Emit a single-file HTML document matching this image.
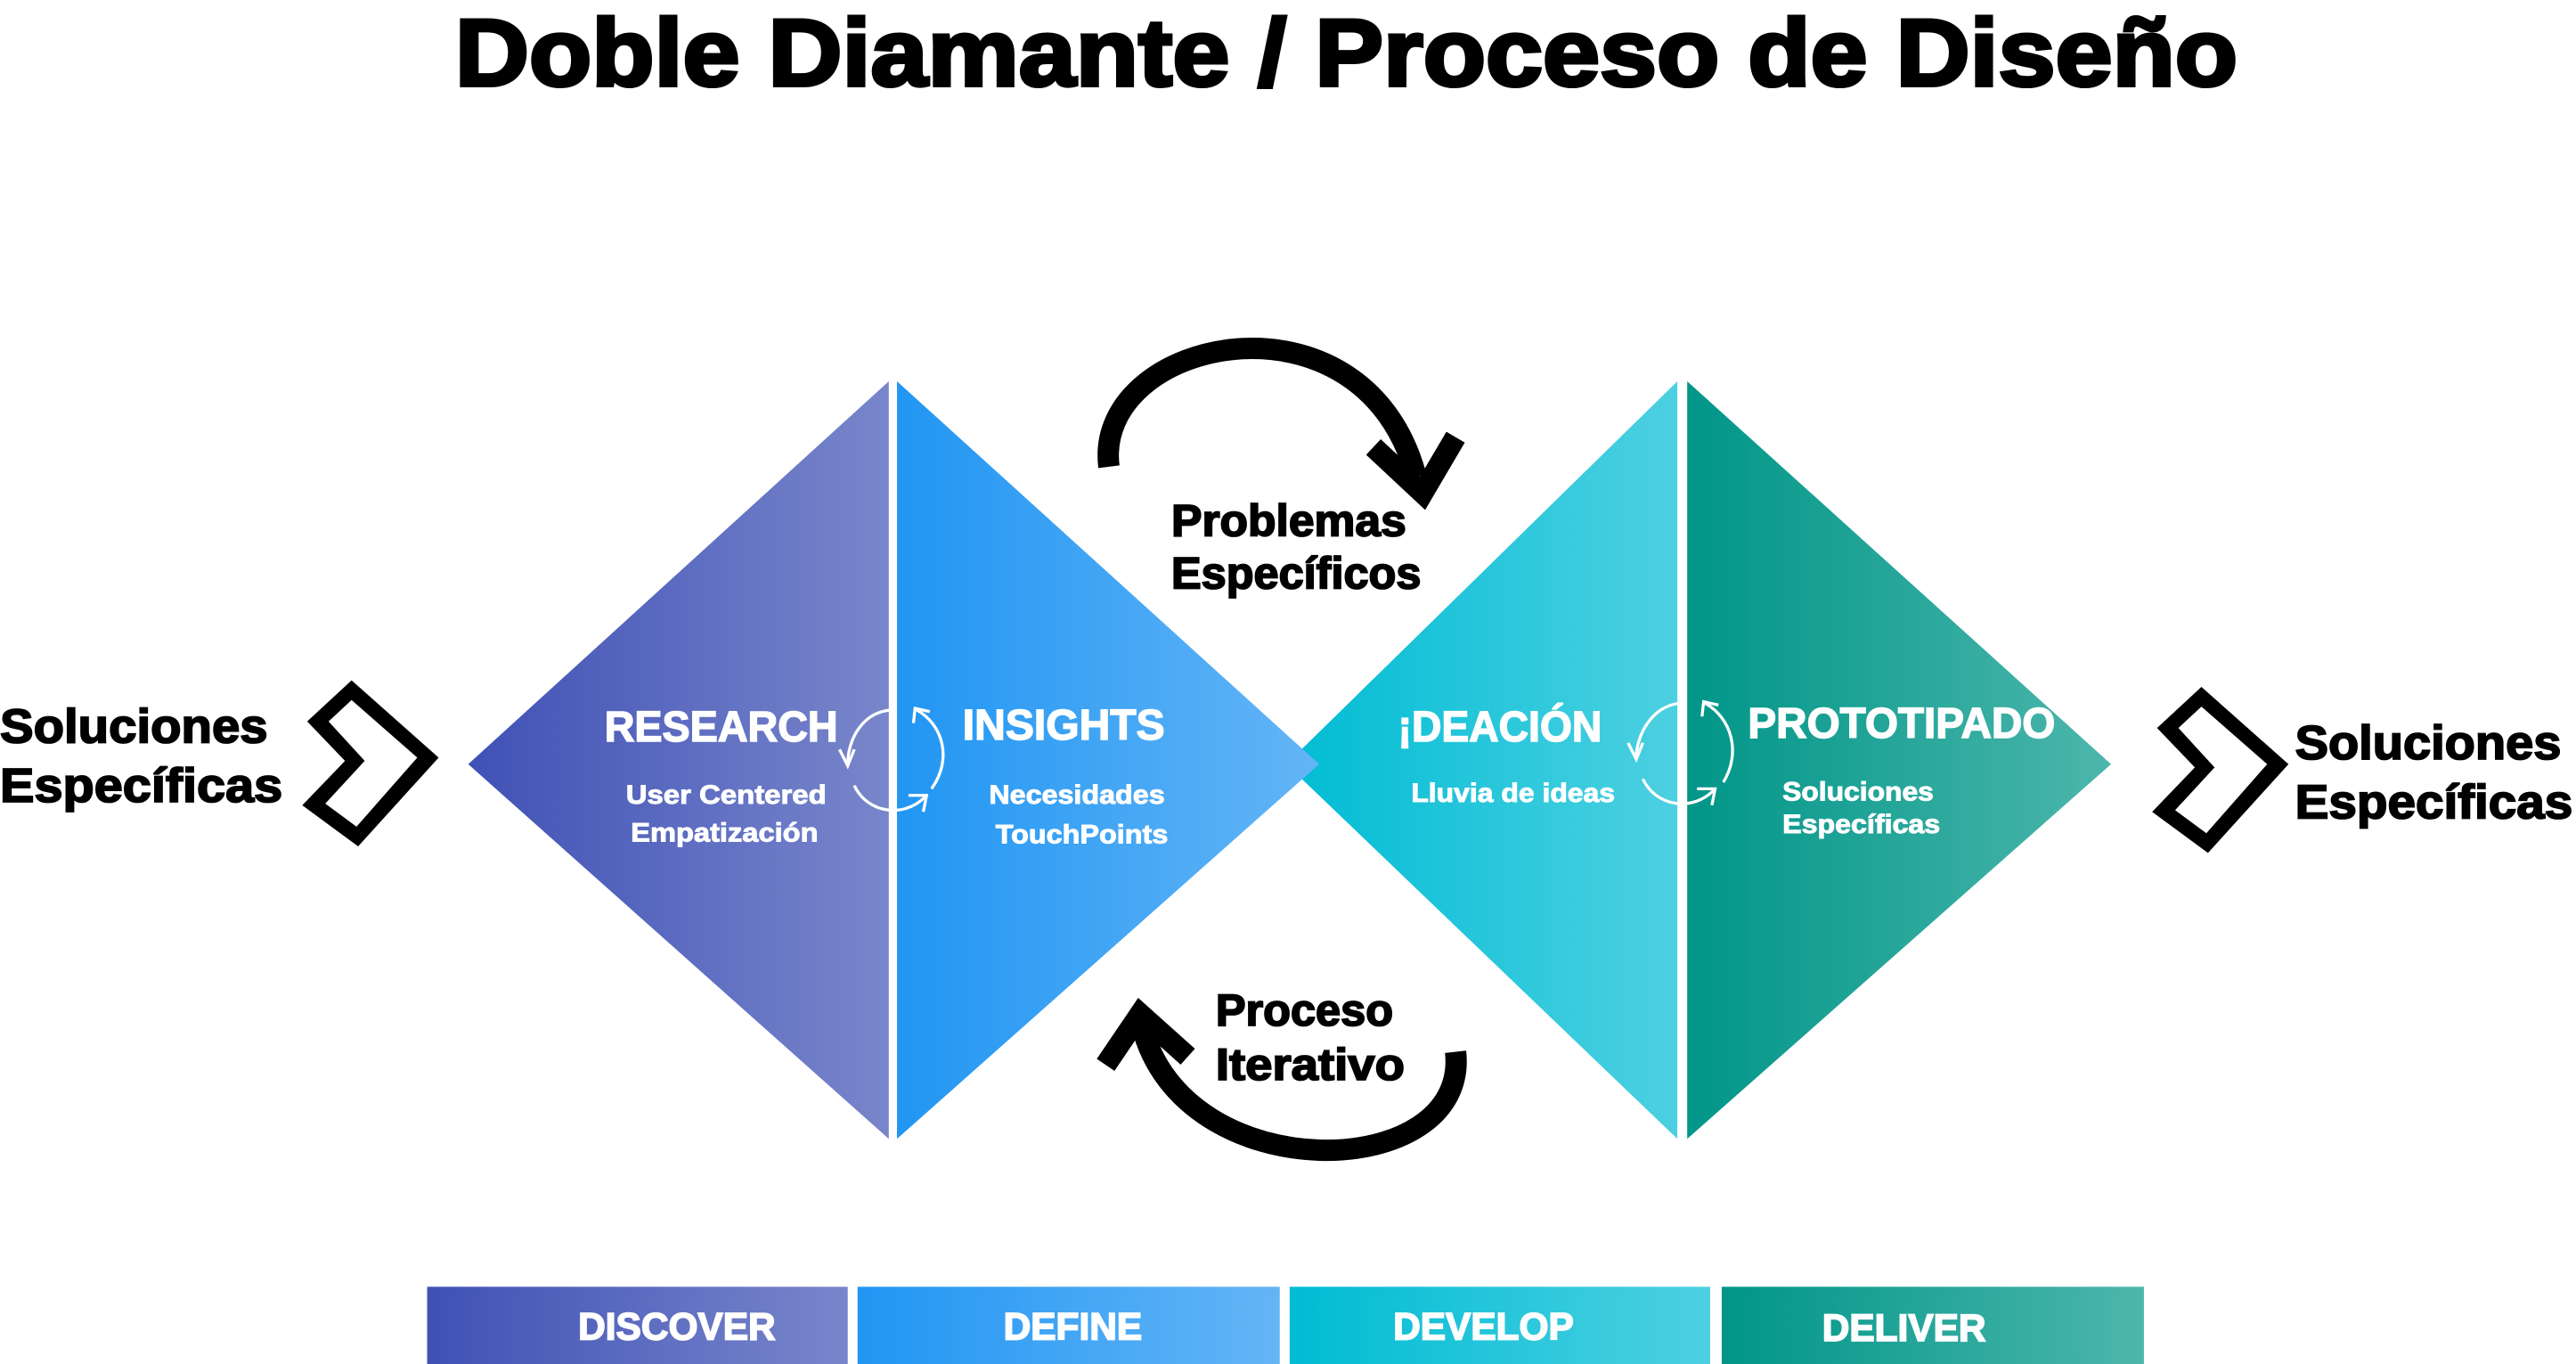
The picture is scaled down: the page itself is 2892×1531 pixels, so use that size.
<!DOCTYPE html>
<html><head><meta charset="utf-8"><style>
html,body{margin:0;padding:0;background:#fff;}
svg{display:block;}
text{font-family:"Liberation Sans",sans-serif;font-weight:bold;}
</style></head><body>
<svg width="2892" height="1531" viewBox="0 0 1568 830" preserveAspectRatio="none" xmlns="http://www.w3.org/2000/svg">
<defs>
<linearGradient id="gDis" x1="0" x2="1"><stop offset="0" stop-color="#3f51b5"/><stop offset="1" stop-color="#7986cb"/></linearGradient>
<linearGradient id="gDef" x1="0" x2="1"><stop offset="0" stop-color="#2196f3"/><stop offset="1" stop-color="#64b5f6"/></linearGradient>
<linearGradient id="gDev" x1="0" x2="1"><stop offset="0" stop-color="#00bcd4"/><stop offset="1" stop-color="#4dd0e1"/></linearGradient>
<linearGradient id="gDel" x1="0" x2="1"><stop offset="0" stop-color="#009688"/><stop offset="1" stop-color="#4db6ac"/></linearGradient>
</defs>
<text x="277" y="52" font-size="58" textLength="1085" lengthAdjust="spacingAndGlyphs" fill="#000" stroke="#000" stroke-width="2.2">Doble Diamante / Proceso de Diseño</text>

<!-- diamond 2 -->
<polygon points="783,465 1021,232 1021,693" fill="url(#gDev)"/>
<polygon points="1027,232 1285,465 1027,693" fill="url(#gDel)"/>
<!-- diamond 1 -->
<polygon points="285,465 541,232 541,693" fill="url(#gDis)"/>
<polygon points="546,232 803,465 546,693" fill="url(#gDef)"/>

<!-- chevrons -->
<path fill="#000" fill-rule="evenodd" d="M214,414 L267,461 L218,515 L184,490 L210,463 L187,439 Z M214,426 L200,439 L222,463 L198,489 L217,503 L254,461 Z"/>
<path fill="#000" fill-rule="evenodd" transform="translate(1126,4)" d="M214,414 L267,461 L218,515 L184,490 L210,463 L187,439 Z M214,426 L200,439 L222,463 L198,489 L217,503 L254,461 Z"/>

<g stroke="#000" stroke-width="1">
<text x="0" y="452" font-size="29" textLength="163" lengthAdjust="spacingAndGlyphs">Soluciones</text>
<text x="0" y="488" font-size="29" textLength="172" lengthAdjust="spacingAndGlyphs">Específicas</text>
<text x="1397" y="462" font-size="29" textLength="162" lengthAdjust="spacingAndGlyphs">Soluciones</text>
<text x="1397" y="498" font-size="29" textLength="169" lengthAdjust="spacingAndGlyphs">Específicas</text>
<text x="713" y="326" font-size="27" textLength="143" lengthAdjust="spacingAndGlyphs">Problemas</text>
<text x="713" y="358" font-size="27" textLength="152" lengthAdjust="spacingAndGlyphs">Específicos</text>
<text x="740" y="624" font-size="27" textLength="108" lengthAdjust="spacingAndGlyphs">Proceso</text>
<text x="740" y="657" font-size="27" textLength="115" lengthAdjust="spacingAndGlyphs">Iterativo</text>
</g>

<!-- big arrows -->
<g fill="none" stroke="#000" stroke-width="13">
<path d="M675,284 C665,205 830,170 862,290"/>
<polyline points="836,272 866,300 886,266" stroke-linejoin="miter"/>
</g>
<g fill="none" stroke="#000" stroke-width="13">
<path d="M886,640 C895,720 720,725 695,624"/>
<polyline points="673,648 694,617 723,643" stroke-linejoin="miter"/>
</g>

<!-- small cycle arrows -->
<g fill="none" stroke="#fff" stroke-width="1.8">
<path d="M543,432 C525,433 516,450 516,465"/><polyline points="511,456 516,466 520,456"/>
<path d="M520,478 C528,495 550,498 563,485"/><polyline points="553,484 564,484 562,494"/>
<path d="M567,480 C580,462 574,441 558,432"/><polyline points="556,440 557,431 566,433"/>
</g>
<g fill="none" stroke="#fff" stroke-width="1.8">
<path d="M1022,428 C1005,430 996,448 996,461"/><polyline points="991,452 996,462 1000,452"/>
<path d="M1000,474 C1008,491 1030,494 1043,481"/><polyline points="1033,480 1044,480 1042,490"/>
<path d="M1049,476 C1060,458 1054,437 1038,428"/><polyline points="1036,436 1037,427 1046,429"/>
</g>

<!-- diamond labels -->
<g fill="#fff" stroke="#fff" stroke-width="0.8">
<text x="368" y="451" font-size="26" textLength="142" lengthAdjust="spacingAndGlyphs">RESEARCH</text>
<text x="586" y="450" font-size="26" textLength="123" lengthAdjust="spacingAndGlyphs">INSIGHTS</text>
<text x="851" y="451" font-size="26" textLength="124" lengthAdjust="spacingAndGlyphs">¡DEACIÓN</text>
<text x="1064" y="449" font-size="26" textLength="187" lengthAdjust="spacingAndGlyphs">PROTOTIPADO</text>
</g>
<g fill="#fff" stroke="#fff" stroke-width="0.5">
<text x="381" y="489" font-size="16" textLength="122" lengthAdjust="spacingAndGlyphs">User Centered</text>
<text x="384" y="512" font-size="16" textLength="114" lengthAdjust="spacingAndGlyphs">Empatización</text>
<text x="602" y="489" font-size="16" textLength="107" lengthAdjust="spacingAndGlyphs">Necesidades</text>
<text x="606" y="513" font-size="16" textLength="105" lengthAdjust="spacingAndGlyphs">TouchPoints</text>
<text x="859" y="488" font-size="16" textLength="124" lengthAdjust="spacingAndGlyphs">Lluvia de ideas</text>
<text x="1085" y="487" font-size="16" textLength="92" lengthAdjust="spacingAndGlyphs">Soluciones</text>
<text x="1085" y="507" font-size="16" textLength="96" lengthAdjust="spacingAndGlyphs">Específicas</text>
</g>

<!-- phase bars -->
<rect x="260" y="783" width="256" height="47" fill="url(#gDis)"/>
<rect x="522" y="783" width="257" height="47" fill="url(#gDef)"/>
<rect x="785" y="783" width="256" height="47" fill="url(#gDev)"/>
<rect x="1048" y="783" width="257" height="47" fill="url(#gDel)"/>
<g fill="#fff" stroke="#fff" stroke-width="0.9" font-size="23" text-anchor="middle">
<text x="412" y="815">DISCOVER</text>
<text x="653" y="815">DEFINE</text>
<text x="903" y="815">DEVELOP</text>
<text x="1159" y="816">DELIVER</text>
</g>
</svg>
</body></html>
